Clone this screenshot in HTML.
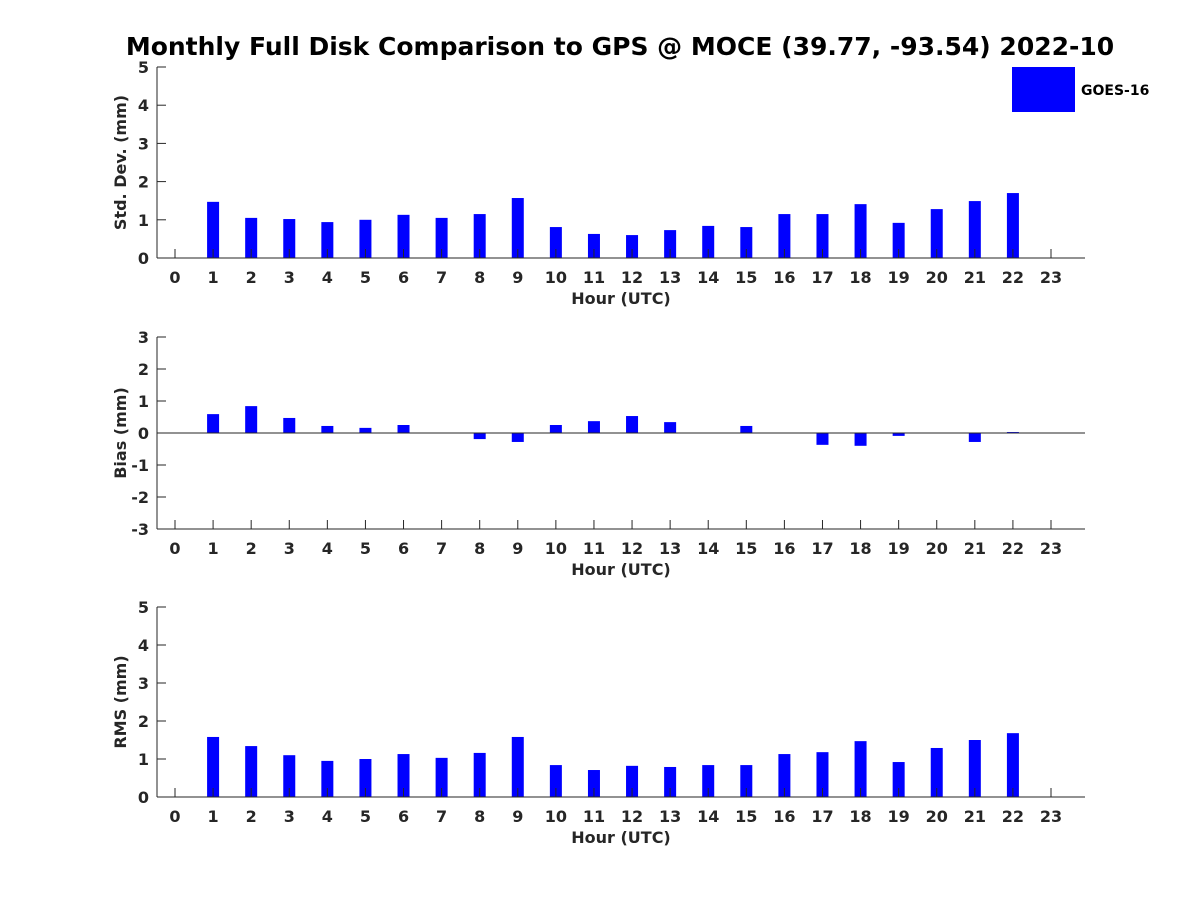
<!DOCTYPE html>
<html><head><meta charset="utf-8"><style>
body{margin:0;background:#fff;}
svg text{font-family:"DejaVu Sans","Liberation Sans",sans-serif;font-weight:bold;fill:#262626;}
</style></head><body>
<svg id="chart" width="1200" height="900" xmlns="http://www.w3.org/2000/svg">
<rect width="1200" height="900" fill="#fff"/>
<text x="620" y="55" text-anchor="middle" font-size="25" style="fill:#000">Monthly Full Disk Comparison to GPS @ MOCE (39.77, -93.54) 2022-10</text>
<rect x="1012" y="67" width="63" height="45" fill="#0000ff"/>
<text x="1081" y="95" font-size="14" style="fill:#000">GOES-16</text>
<g id="plots"></g>
</svg>
<script>
const hours = [0,1,2,3,4,5,6,7,8,9,10,11,12,13,14,15,16,17,18,19,20,21,22,23];
const stdValues = [null,1.47,1.05,1.02,0.94,1.0,1.13,1.05,1.15,1.57,0.81,0.63,0.6,0.73,0.84,0.81,1.15,1.15,1.41,0.92,1.28,1.49,1.7,null];
const biasValues = [null,0.59,0.84,0.47,0.22,0.16,0.25,0,-0.19,-0.28,0.25,0.37,0.53,0.34,0,0.22,0,-0.37,-0.4,-0.09,0,-0.28,0.03,null];
const rmsValues = [null,1.58,1.34,1.1,0.95,1.0,1.13,1.03,1.16,1.58,0.84,0.71,0.82,0.79,0.84,0.84,1.13,1.18,1.47,0.92,1.29,1.5,1.68,null];
const stdTicks = [0,1,2,3,4,5];
const biasTicks = [-3,-2,-1,0,1,2,3];
const rmsTicks = [0,1,2,3,4,5];

const NS="http://www.w3.org/2000/svg";
const root=document.getElementById('plots');
function mk(tag,attrs,parent){const e=document.createElementNS(NS,tag);for(const k in attrs)e.setAttribute(k,attrs[k]);(parent||root).appendChild(e);return e;}
const xL=157,xR=1085;
function xScale(h){return 175+h*(1051-175)/23;}

function panel(key,top,bottom,ymin,ymax,ticks,values,ylabel){
  const g=mk('g',{});
  
  
  const y=v=>bottom-(v-ymin)/(ymax-ymin)*(bottom-top);
  values.forEach((v,i)=>{
    if(v===null||v===0)return;
    const y0=y(0),y1=y(v);
    const b=mk('rect',{x:xScale(hours[i])-6,y:Math.min(y0,y1),width:12,height:Math.max(Math.abs(y1-y0),0.5),fill:'#0000ff'},g);
    
    
  });
  const ya=mk('line',{x1:xL,y1:top,x2:xL,y2:bottom,stroke:'#262626','stroke-width':1},g);
  
  
  const xa=mk('line',{x1:xL,y1:bottom,x2:xR,y2:bottom,stroke:'#262626','stroke-width':1},g);
  
  
  if(ymin<0){mk('line',{x1:xL,y1:y(0),x2:xR,y2:y(0),stroke:'#262626','stroke-width':1},g);}
  ticks.forEach(t=>{
    mk('line',{x1:xL,y1:y(t),x2:xL+9,y2:y(t),stroke:'#262626'},g);
    const tl=mk('text',{x:xL-8,y:y(t)+6,'text-anchor':'end','font-size':16},g);
    tl.textContent=t;
    
    
  });
  hours.forEach(h=>{
    mk('line',{x1:xScale(h),y1:bottom,x2:xScale(h),y2:bottom-9,stroke:'#262626'},g);
    const tl=mk('text',{x:xScale(h),y:bottom+25,'text-anchor':'middle','font-size':16},g);
    tl.textContent=h;
    
    
  });
  const xt=mk('text',{x:621,y:bottom+46,'text-anchor':'middle','font-size':16},g);
  xt.textContent='Hour (UTC)';
  
  
  const cy=(top+bottom)/2;
  const yt=mk('text',{x:0,y:0,'text-anchor':'middle','font-size':16,transform:`translate(126,${cy}) rotate(-90)`},g);
  yt.textContent=ylabel;
  
  
}
panel('std',67,258,0,5,stdTicks,stdValues,'Std. Dev. (mm)');
panel('bias',337,529,-3,3,biasTicks,biasValues,'Bias (mm)');
panel('rms',607,797,0,5,rmsTicks,rmsValues,'RMS (mm)');
</script>
</body></html>
